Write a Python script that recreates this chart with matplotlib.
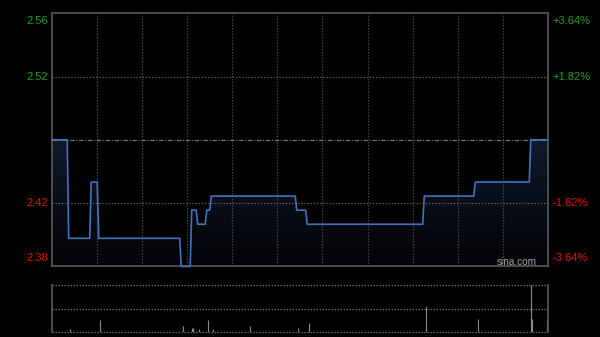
import numpy as np
import matplotlib
matplotlib.use('Agg')
import matplotlib.pyplot as plt
from matplotlib.colors import LinearSegmentedColormap

# ---- data ----
prev_close = 2.47
# intraday price as runs of (level, minutes)
price_levels = [2.47, 2.40, 2.44, 2.40, 2.38, 2.42, 2.41, 2.42, 2.43, 2.42, 2.41, 2.43, 2.44, 2.47]
run_lengths = [11, 15, 5, 55, 7, 4, 6, 3, 57, 7, 78, 34, 37, 12]

vol_minutes = [12, 32, 87, 93, 94, 98, 104, 107, 132, 164, 171, 249, 284, 319, 320, 330]
vol_values = [5, 25, 12, 9, 9, 6, 25, 5, 12, 7, 19, 56, 27, 100, 27, 27]

left_labels = ['2.56', '2.52', '2.42', '2.38']
right_labels = ['+3.64%', '+1.82%', '-1.82%', '-3.64%']
pct_max = 3.64
pct_mid = 1.82

prices = np.repeat(price_levels, run_lengths)
minutes = np.arange(len(prices))

ymax = prev_close * (1 + pct_max / 100)
ymin = prev_close * (1 - pct_max / 100)
y_up = prev_close * (1 + pct_mid / 100)
y_dn = prev_close * (1 - pct_mid / 100)

bg = '#000000'
border = '#5a5a5a'
grid = '#444444'
green = '#1f9f1f'
red = '#d81414'
font = 'Liberation Sans'

fig = plt.figure(figsize=(6, 3.37), dpi=100, facecolor=bg)
ax = fig.add_axes([51.7 / 600, 1 - 266.3 / 337, 496.3 / 600, 253 / 337], facecolor=bg)
axv = fig.add_axes([51.7 / 600, 1 - 331.7 / 337, 496.3 / 600, 46.4 / 337], facecolor=bg)

x0, x1 = -0.33, 330.5

# ---- price panel ----
poly = ax.fill_between(minutes, prices, ymin, facecolor='none', edgecolor='none')
cmap = LinearSegmentedColormap.from_list('fade', ['#020305', '#0f1a2c'])
grad = np.linspace(1, 0, 256).reshape(-1, 1)
im = ax.imshow(grad, extent=[x0, x1, ymin, max(price_levels)], aspect='auto',
               cmap=cmap, origin='upper', zorder=1, interpolation='bilinear')
im.set_clip_path(poly.get_paths()[0], transform=ax.transData)

for k in range(1, 11):
    ax.plot([k / 11, k / 11], [0, 1], transform=ax.transAxes, color=grid,
            lw=0.9, ls=(0, (1.2, 1.2)), zorder=2)
for yv in (y_up, y_dn):
    ax.axhline(yv, color='#666666', lw=0.8, ls=(0, (1.2, 1.6)), zorder=2)
ax.axhline(prev_close, color='#7a7a7a', lw=0.8, ls=(0, (4, 1.5, 1, 1.5)), zorder=2)

ax.set_xlim(x0, x1)
ax.set_ylim(ymin, ymax)
ax.set_xticks([])
ax.set_yticks([])
for s in ax.spines.values():
    s.set_color(border)
    s.set_linewidth(1.2)

ax.plot(minutes, prices, color='#4272bb', lw=1.2, zorder=6, clip_on=False)

ytr = ax.get_yaxis_transform()
tick_y = [ymax, y_up, y_dn, ymin]
tick_va = ['top', 'center', 'center', 'bottom']
tick_col = [green, green, red, red]
for yv, lab, rlab, va, c in zip(tick_y, left_labels, right_labels, tick_va, tick_col):
    yy = yv
    if va == 'top':
        yy = yv - 0.002
    if va == 'bottom':
        yy = yv + 0.002
    ax.text(-0.008, yy, lab, transform=ytr, ha='right', va=va, color=c,
            fontsize=8, family=font)
    ax.text(1.009, yy, rlab, transform=ytr, ha='left', va=va, color=c,
            fontsize=8, family=font)

ax.text(0.978, 0.004, 'sina.com', transform=ax.transAxes, ha='right', va='baseline',
        color='#a0a0a0', fontsize=7.2, family=font, zorder=5)

# ---- volume panel ----
axv.vlines(vol_minutes, 0, vol_values, color='#8a8a8a', lw=0.8)
for yv in (0, 50, 100):
    axv.axhline(yv, color='#6a6a6a', lw=0.9, ls=(0, (1.2, 1.2)), clip_on=False)
axv.set_xlim(x0, x1)
axv.set_ylim(0, 100)
axv.set_xticks([])
axv.set_yticks([])
for side, s in axv.spines.items():
    if side in ('top', 'bottom'):
        s.set_visible(False)
    else:
        s.set_color(border)
        s.set_linewidth(1.2)

fig.savefig('out.png', dpi=100, facecolor=bg)
